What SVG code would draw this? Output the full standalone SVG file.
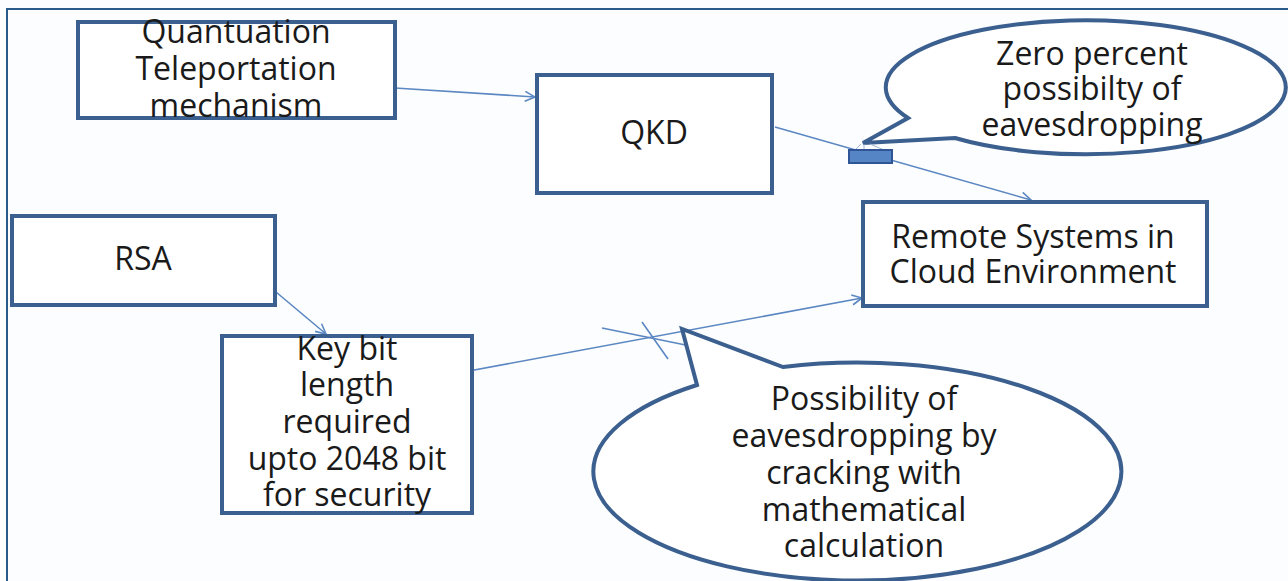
<svg xmlns="http://www.w3.org/2000/svg" width="1288" height="581" viewBox="0 0 1288 581">
<style>
.box{fill:#ffffff;stroke:#3b5f8e;stroke-width:4}
.call{fill:#ffffff;stroke:#3b5f8e;stroke-width:4;stroke-linejoin:miter}
.t{font-family:"Open Sans","Liberation Sans",sans-serif;font-size:32px;fill:#1a1a1a;text-anchor:middle}
.c{fill:none;stroke:#5b87c2;stroke-width:1.6}
</style>
<defs>
<marker id="ah" viewBox="0 0 12 12" refX="11" refY="6" markerWidth="12" markerHeight="12" markerUnits="userSpaceOnUse" orient="auto">
<path d="M1,1 L11,6 L1,11" fill="none" stroke="#5b87c2" stroke-width="1.6"/>
</marker>
</defs>
<rect width="1288" height="581" fill="#fcfdfe"/>
<path d="M7,581 V9 H1288" fill="none" stroke="#2a5a8a" stroke-width="2"/>

<g id="connectors">
<line class="c" x1="395" y1="88" x2="535" y2="97" marker-end="url(#ah)"/>
<line class="c" x1="775" y1="127" x2="1031" y2="200" marker-end="url(#ah)"/>
<line class="c" x1="276" y1="292" x2="326" y2="334" marker-end="url(#ah)"/>
<line class="c" x1="458" y1="373" x2="862" y2="298" marker-end="url(#ah)"/>
<line class="c" x1="602" y1="328" x2="720" y2="352"/>
<line class="c" x1="642" y1="322" x2="668" y2="359"/>
</g>

<g id="quantuation">
<rect class="box" x="78" y="22" width="317" height="96"/>
<text class="t" x="236" y="43">Quantuation</text>
<text class="t" x="236" y="80">Teleportation</text>
<text class="t" x="236" y="117">mechanism</text>
</g>

<g id="qkd">
<rect class="box" x="537" y="75" width="235" height="118"/>
<text class="t" x="654" y="144">QKD</text>
</g>

<g id="zero-callout">
<path class="call" d="M863,143 L908,118 A200,67 0 1 1 955,138 Z"/>
<text class="t" x="1092" y="65">Zero percent</text>
<text class="t" x="1092" y="100">possibilty of</text>
<text class="t" x="1092" y="136">eavesdropping</text>
</g>

<g id="marker-rect">
<path d="M855,150 L861,144 M864,150 L864,144 M884,150 L870,144" fill="none" stroke="#9fb6d6" stroke-width="1"/>
<rect x="849" y="150" width="43" height="13" fill="#5585c4" stroke="#2f5597" stroke-width="2"/>
</g>

<g id="remote">
<rect class="box" x="863" y="202" width="344" height="104"/>
<text class="t" x="1033" y="248">Remote Systems in</text>
<text class="t" x="1033" y="283">Cloud Environment</text>
</g>

<g id="rsa">
<rect class="box" x="12" y="216" width="263" height="89"/>
<text class="t" x="143" y="270">RSA</text>
</g>

<g id="keybit">
<rect class="box" x="222" y="336" width="250" height="177"/>
<text class="t" x="347" y="360">Key bit</text>
<text class="t" x="347" y="396">length</text>
<text class="t" x="347" y="433">required</text>
<text class="t" x="347" y="470">upto 2048 bit</text>
<text class="t" x="347" y="506">for security</text>
</g>

<g id="crack-callout">
<path class="call" d="M682,329 L697,385 A264,109 0 1 0 783,367 Z"/>
<text class="t" x="864" y="410">Possibility of</text>
<text class="t" x="864" y="447">eavesdropping by</text>
<text class="t" x="864" y="484">cracking with</text>
<text class="t" x="864" y="521">mathematical</text>
<text class="t" x="864" y="557">calculation</text>
</g>
</svg>
